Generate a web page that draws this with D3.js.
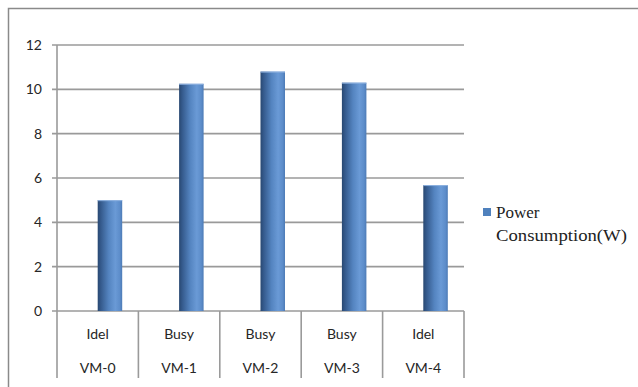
<!DOCTYPE html>
<html><head><meta charset="utf-8">
<script src="https://cdn.jsdelivr.net/npm/d3@7"></script>
<style>body{margin:0;background:#fff}svg{display:block}
.serif{font-family:"Liberation Serif","DejaVu Serif","Times New Roman",serif}
.sans{font-family:Lato,"Open Sans",sans-serif}</style>
</head><body>
<script>
const categories = ["VM-0","VM-1","VM-2","VM-3","VM-4"];
const states = ["Idel","Busy","Busy","Busy","Idel"];
const powerValues = [5.0, 10.25, 10.8, 10.3, 5.68];
const yTicks = [0,2,4,6,8,10,12];
const seriesName = ["Power","Consumption(W)"];

(function(){
const W = 638, H = 387;
const svg = d3.select("body").append("svg").attr("width",W).attr("height",H);
const defs = svg.append("defs");
const g = defs.append("linearGradient").attr("id","barGrad").attr("x1","0").attr("x2","1").attr("y1","0").attr("y2","0");
[[0,"#294871"],[0.12,"#34598b"],[0.45,"#5484c0"],[0.72,"#6a9ad6"],[0.9,"#5d8dca"],[1,"#4d7bb6"]].forEach(([o,c])=>g.append("stop").attr("offset",o).attr("stop-color",c));

// outer border
svg.append("rect").attr("x",8.5).attr("y",8.5).attr("width",W).attr("height",H).attr("fill","none").attr("stroke","#8a8a8a").attr("stroke-width",1.5);

const pLeft = 57, pRight = 464, pTop = 45, pBottom = 311, tableBottom = 378;
const x = d3.scaleBand().domain(categories).range([pLeft,pRight]);
const y = d3.scaleLinear().domain([0,12]).range([pBottom,pTop]);

// gridlines
svg.append("g").selectAll("line").data(yTicks).join("line")
  .attr("x1",pLeft-5).attr("x2",pRight).attr("y1",d=>y(d)).attr("y2",d=>y(d))
  .attr("stroke","#9a9a9a").attr("stroke-width",1.6);
// y axis line
svg.append("line").attr("x1",pLeft).attr("x2",pLeft).attr("y1",pTop).attr("y2",tableBottom).attr("stroke","#9a9a9a").attr("stroke-width",1.6);
// y labels
svg.append("g").attr("class","sans").selectAll("text").data(yTicks).join("text")
  .attr("x",42).attr("y",d=>y(d)).attr("dy","0.35em").attr("text-anchor","end")
  .attr("font-size",14).attr("fill","#262626")
  .text(d=>d);
// category table separators
svg.append("g").selectAll("line").data(categories).join("line")
  .attr("x1",d=>x(d)+x.bandwidth()).attr("x2",d=>x(d)+x.bandwidth())
  .attr("y1",pBottom).attr("y2",tableBottom).attr("stroke","#9a9a9a").attr("stroke-width",1.6);

// bars
const bw = 24.5;
svg.append("g").selectAll("rect").data(powerValues).join("rect")
  .attr("x",(d,i)=>x(categories[i])+x.bandwidth()/2)
  .attr("width",bw)
  .attr("y",d=>y(d)).attr("height",d=>pBottom-y(d))
  .attr("fill","url(#barGrad)");
svg.append("g").selectAll("line").data(powerValues).join("line")
  .attr("x1",(d,i)=>x(categories[i])+x.bandwidth()/2).attr("x2",(d,i)=>x(categories[i])+x.bandwidth()/2+bw)
  .attr("y1",d=>y(d)+0.5).attr("y2",d=>y(d)+0.5).attr("stroke","#8fb2e0").attr("stroke-width",1);

// category labels
const lab = svg.append("g").attr("class","sans").attr("font-size",14).attr("fill","#262626").attr("text-anchor","middle");
lab.selectAll("text.s").data(states).join("text").attr("class","s")
  .attr("x",(d,i)=>x(categories[i])+x.bandwidth()/2).attr("y",334).attr("dy","0.35em").text(d=>d);
lab.selectAll("text.c").data(categories).join("text").attr("class","c")
  .attr("x",d=>x(d)+x.bandwidth()/2).attr("y",368).attr("dy","0.35em").text(d=>d);

// legend
svg.append("rect").attr("x",483).attr("y",208).attr("width",8).attr("height",8).attr("fill","#4f81bd");
const lg = svg.append("text").attr("class","serif").attr("font-size",17).attr("fill","#222");
lg.append("tspan").attr("x",496).attr("y",218).text(seriesName[0]);
lg.append("tspan").attr("x",496).attr("y",241).attr("textLength",131).attr("lengthAdjust","spacingAndGlyphs").text(seriesName[1]);
})();
</script>
</body></html>
